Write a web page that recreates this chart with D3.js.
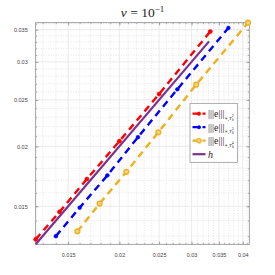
<!DOCTYPE html>
<html>
<head>
<meta charset="utf-8">
<script src="https://cdn.jsdelivr.net/npm/d3@7"></script>
<style>
  body { margin: 0; background: #fff; }
  .tick text { font-family: "Liberation Sans", Arial, sans-serif; }
  .serif { font-family: "Liberation Serif", "DejaVu Serif", serif; }
</style>
</head>
<body>
<div id="chart"></div>
<script>
// data
const hVals = [1/80, 1/70, 1/60, 1/50, 1/40, 1/30];
const redY = [0.0128, 0.0146, 0.0171, 0.0205, 0.0257, 0.0347];
const blueX = [0.0140, 0.0160, 0.0187, 0.0222, 0.0277, 0.0369];
const blueY = [0.0130, 0.0149, 0.0174, 0.0209, 0.0263, 0.0353];
const yellowX = [0.0158, 0.0179, 0.0208, 0.0249, 0.0308, 0.0412];
const yellowY = [0.0133, 0.0152, 0.0177, 0.0214, 0.0269, 0.0362];
const hLine = [0.0125, 0.0331];
const xTicks = [0.015, 0.02, 0.025, 0.03, 0.035, 0.04];
const yTicks = [0.015, 0.02, 0.025, 0.03, 0.035];
const xMinor = d3.range(13, 42).map(d => d / 1000);
const yMinor = d3.range(13, 37).map(d => d / 1000);
const legendSup = ["2", "3", "4"];

const svgWidth = 275, svgHeight = 275;
const margin = {top: 22.7, right: 25.7, bottom: 30.7, left: 35.7};
const width = svgWidth - margin.left - margin.right;
const height = svgHeight - margin.top - margin.bottom;

const svg = d3.select("#chart").append("svg")
  .attr("width", svgWidth)
  .attr("height", svgHeight);

const g = svg.append("g")
  .attr("transform", `translate(${margin.left},${margin.top})`);

const x = d3.scaleLog().domain([0.0125, 0.0415]).range([0, width]);
const y = d3.scaleLog().domain([0.0125, 0.0362]).range([height, 0]);

// grid
g.append("g").selectAll("line")
  .data(xMinor.filter(d => !xTicks.some(t => Math.abs(t - d) < 1e-9)))
  .join("line")
  .attr("x1", d => x(d)).attr("x2", d => x(d))
  .attr("y1", 0).attr("y2", height)
  .attr("stroke", "#d4d4d4").attr("stroke-width", 0.6)
  .attr("stroke-dasharray", "1,1.5");
g.append("g").selectAll("line")
  .data(yMinor.filter(d => !yTicks.some(t => Math.abs(t - d) < 1e-9)))
  .join("line")
  .attr("y1", d => y(d)).attr("y2", d => y(d))
  .attr("x1", 0).attr("x2", width)
  .attr("stroke", "#d4d4d4").attr("stroke-width", 0.6)
  .attr("stroke-dasharray", "1,1.5");
g.append("g").selectAll("line")
  .data(xTicks)
  .join("line")
  .attr("x1", d => x(d)).attr("x2", d => x(d))
  .attr("y1", 0).attr("y2", height)
  .attr("stroke", "#e6e6e6").attr("stroke-width", 0.8);
g.append("g").selectAll("line")
  .data(yTicks)
  .join("line")
  .attr("y1", d => y(d)).attr("y2", d => y(d))
  .attr("x1", 0).attr("x2", width)
  .attr("stroke", "#e6e6e6").attr("stroke-width", 0.8);

// axes (ticks inward, box on)
function styleAxis(sel) {
  sel.select(".domain").remove();
  sel.selectAll("line").attr("stroke", "#8a8a8a").attr("stroke-width", 0.6);
  sel.selectAll("text").attr("fill", "#444").attr("font-size", 5.5);
}
const fmt = d => String(+d.toFixed(3));

g.append("g").attr("transform", `translate(0,${height})`)
  .call(d3.axisBottom(x).tickValues(xTicks).tickFormat(fmt).tickSizeInner(-3).tickPadding(9))
  .call(styleAxis);
g.append("g").attr("transform", `translate(0,${height})`)
  .call(d3.axisBottom(x).tickValues(xMinor).tickFormat("").tickSizeInner(-1.5))
  .call(styleAxis);
g.append("g")
  .call(d3.axisTop(x).tickValues(xTicks).tickFormat("").tickSizeInner(-3))
  .call(styleAxis);
g.append("g")
  .call(d3.axisTop(x).tickValues(xMinor).tickFormat("").tickSizeInner(-1.5))
  .call(styleAxis);
g.append("g")
  .call(d3.axisLeft(y).tickValues(yTicks).tickFormat(fmt).tickSizeInner(-3).tickPadding(8))
  .call(styleAxis);
g.append("g")
  .call(d3.axisLeft(y).tickValues(yMinor).tickFormat("").tickSizeInner(-1.5))
  .call(styleAxis);
g.append("g").attr("transform", `translate(${width},0)`)
  .call(d3.axisRight(y).tickValues(yTicks).tickFormat("").tickSizeInner(-3))
  .call(styleAxis);
g.append("g").attr("transform", `translate(${width},0)`)
  .call(d3.axisRight(y).tickValues(yMinor).tickFormat("").tickSizeInner(-1.5))
  .call(styleAxis);

g.append("rect")
  .attr("width", width).attr("height", height)
  .attr("fill", "none").attr("stroke", "#8a8a8a").attr("stroke-width", 0.8);

// series
const series = [
  {xs: hVals, ys: redY, color: "#ff0000", r: 2.1, open: false},
  {xs: blueX, ys: blueY, color: "#0000ff", r: 1.9, open: false},
  {xs: yellowX, ys: yellowY, color: "#edb120", r: 2.4, open: true}
];
const line = d3.line().x(d => x(d[0])).y(d => y(d[1]));

series.forEach(s => {
  const pts = s.xs.map((v, i) => [v, s.ys[i]]);
  g.append("path").datum(pts)
    .attr("d", line)
    .attr("fill", "none")
    .attr("stroke", s.color)
    .attr("stroke-width", 2.4)
    .attr("stroke-dasharray", "7,5");
  g.append("g").selectAll("circle")
    .data(pts)
    .join("circle")
    .attr("cx", d => x(d[0]))
    .attr("cy", d => y(d[1]))
    .attr("r", s.r)
    .attr("fill", s.open ? "#f6d27e" : s.color)
    .attr("stroke", s.color)
    .attr("stroke-width", s.open ? 1.4 : 0.5);
});

g.append("path").datum(hLine.map(v => [v, v]))
  .attr("d", line)
  .attr("fill", "none")
  .attr("stroke", "#7e2f8e")
  .attr("stroke-width", 2.2);

// title
const title = svg.append("text")
  .attr("class", "serif")
  .attr("x", 142.5).attr("y", 17)
  .attr("text-anchor", "middle")
  .attr("font-size", 13.5)
  .attr("fill", "#222");
title.append("tspan").attr("font-style", "italic").text("ν");
title.append("tspan").text(" = 10");
title.append("tspan").attr("font-size", 9).attr("dy", -5.5).text("−1");

// legend
const lg = svg.append("g").attr("transform", "translate(190,103.3)");
lg.append("rect")
  .attr("width", 47.3).attr("height", 59)
  .attr("fill", "#fff").attr("stroke", "#8a8a8a").attr("stroke-width", 0.7);

const legendItems = [
  {color: "#ff0000", r: 1.8, open: false, sup: legendSup[0]},
  {color: "#0000ff", r: 1.7, open: false, sup: legendSup[1]},
  {color: "#edb120", r: 2.2, open: true, sup: legendSup[2]},
  {color: "#7e2f8e", r: 0, open: false, sup: null}
];
legendItems.forEach((it, i) => {
  const cy = 10.4 + i * 13.5;
  const row = lg.append("g").attr("transform", `translate(0,${cy})`);
  if (it.sup) {
    row.append("line")
      .attr("x1", 2.5).attr("x2", 15.5).attr("y1", 0).attr("y2", 0)
      .attr("stroke", it.color).attr("stroke-width", 2.2)
      .attr("stroke-dasharray", "7,3");
    row.append("circle")
      .attr("cx", 9).attr("cy", 0).attr("r", it.r)
      .attr("fill", it.open ? "#f6d27e" : it.color)
      .attr("stroke", it.color).attr("stroke-width", it.open ? 1.2 : 0.5);
    const t = row.append("text")
      .attr("class", "serif")
      .attr("x", 18).attr("y", 3.5)
      .attr("font-size", 10).attr("fill", "#222");
    t.append("tspan").text("|||e|||");
    t.append("tspan").attr("font-size", 5).attr("dy", 2.5).text("∗,");
    t.append("tspan").attr("font-size", 5).attr("font-style", "italic").text("T");
    t.append("tspan").attr("font-size", 3.8).attr("dy", 1.2).attr("font-style", "italic").text("h");
    t.append("tspan").attr("font-size", 3.8).attr("dy", -4).attr("dx", -2).text(it.sup);
  } else {
    row.append("line")
      .attr("x1", 2.5).attr("x2", 15.5).attr("y1", 0).attr("y2", 0)
      .attr("stroke", it.color).attr("stroke-width", 2.2);
    row.append("text")
      .attr("class", "serif")
      .attr("x", 18).attr("y", 3.5)
      .attr("font-style", "italic")
      .attr("font-size", 10).attr("fill", "#222")
      .text("h");
  }
});
</script>
</body>
</html>
